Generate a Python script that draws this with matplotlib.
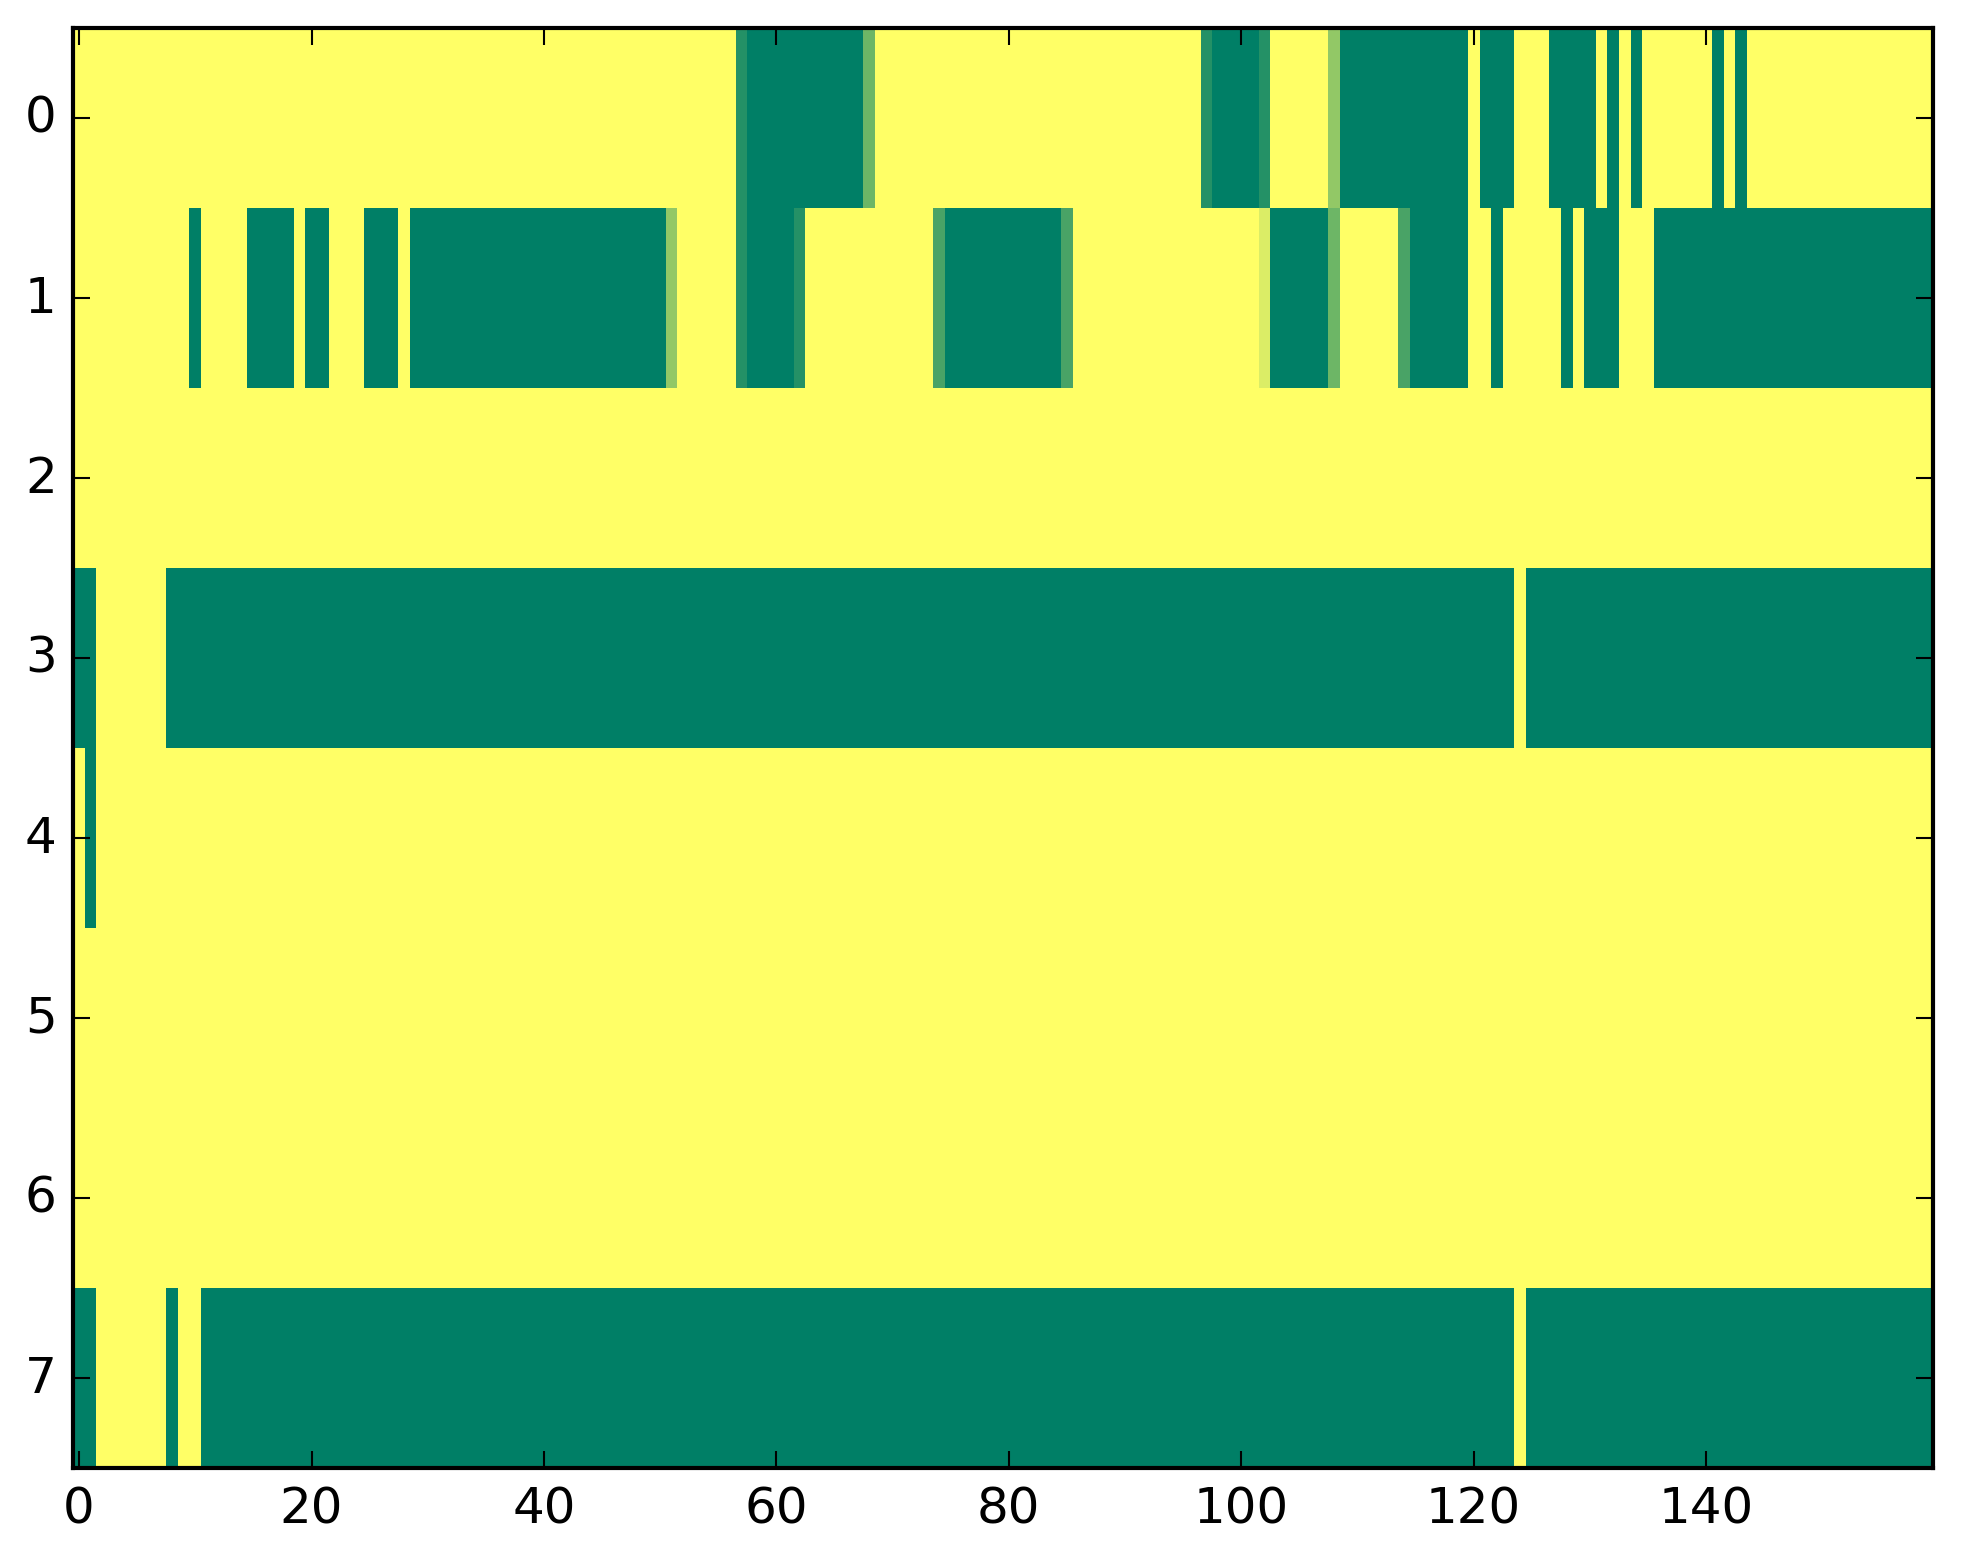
import numpy as np
import matplotlib
matplotlib.use("Agg")
import matplotlib.pyplot as plt

# Each row: run-length list of (level, count); value = level / 7
row0_runs = [(7, 57), (1, 1), (0, 10), (3, 1), (7, 28), (1, 1), (0, 4), (1, 1),
             (7, 5), (4, 1), (0, 11), (7, 1), (0, 3), (7, 3), (0, 4), (7, 1),
             (0, 1), (7, 1), (0, 1), (7, 6), (0, 1), (7, 1), (0, 1), (7, 16)]
row1_runs = [(7, 10), (0, 1), (7, 4), (0, 4), (7, 1), (0, 2), (7, 3), (0, 3),
             (7, 1), (0, 22), (4, 1), (7, 5), (1, 1), (0, 4), (1, 1), (7, 11),
             (2, 1), (0, 10), (2, 1), (7, 16), (6, 1), (0, 5), (3, 1), (7, 5),
             (2, 1), (0, 5), (7, 2), (0, 1), (7, 5), (0, 1), (7, 1), (0, 3),
             (7, 3), (0, 24)]
row2_runs = [(7, 160)]
row3_runs = [(0, 2), (7, 6), (0, 116), (7, 1), (0, 35)]
row4_runs = [(7, 1), (0, 1), (7, 158)]
row5_runs = [(7, 160)]
row6_runs = [(7, 160)]
row7_runs = [(0, 2), (7, 6), (0, 1), (7, 2), (0, 113), (7, 1), (0, 35)]

rows = [row0_runs, row1_runs, row2_runs, row3_runs,
        row4_runs, row5_runs, row6_runs, row7_runs]

def expand(runs):
    out = []
    for lvl, n in runs:
        out.extend([lvl / 7.0] * n)
    return out

data = np.array([expand(r) for r in rows])

xticks = [0, 20, 40, 60, 80, 100, 120, 140]
yticks = [0, 1, 2, 3, 4, 5, 6, 7]

W, H = 1963, 1564
left, right, top, bottom = 73.3, 1932.7, 29.0, 1468.7

plt.style.use('classic')
fig = plt.figure(figsize=(W / 300, H / 300), dpi=300)
ax = fig.add_axes([left / W, 1 - bottom / H, (right - left) / W, (bottom - top) / H])
ax.imshow(data, cmap='summer', vmin=0, vmax=1, aspect='auto',
          interpolation='nearest')
ax.set_xticks(xticks)
ax.set_yticks(yticks)
ax.set_xlim(-0.5, data.shape[1] - 0.5)
ax.set_ylim(data.shape[0] - 0.5, -0.5)
ax.tick_params(labelsize=12)
fig.savefig("out.png", dpi=300)
